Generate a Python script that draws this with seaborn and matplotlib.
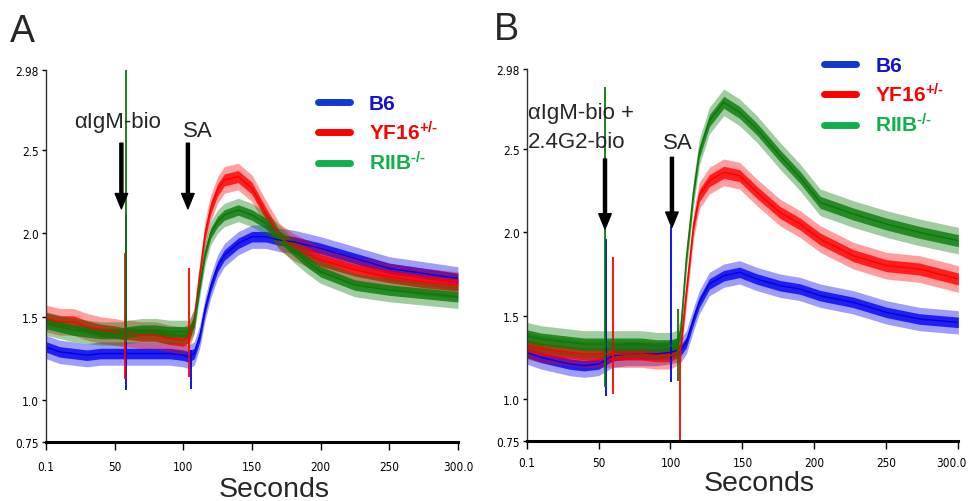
import numpy as np
import pandas as pd
import matplotlib
matplotlib.use('Agg')
import matplotlib.pyplot as plt
import seaborn as sns
from matplotlib.lines import Line2D
from matplotlib import font_manager
from matplotlib.transforms import ScaledTranslation

# ---- data (ratio vs seconds) ----
strains = ['B6', 'YF16', 'RIIB']

# panel A: aIgM-bio at ~55 s, SA at ~104 s
t_a = [0, 10, 20, 30, 40, 50, 56, 60, 70, 80, 90, 100, 104, 108, 112, 116, 120,
       125, 130, 140, 150, 160, 170, 180, 190, 200, 225, 250, 275, 300]
a_b6 = [1.32, 1.29, 1.28, 1.27, 1.28, 1.28, 1.28, 1.28, 1.28, 1.28, 1.28, 1.27, 1.26, 1.28, 1.38, 1.55,
        1.68, 1.80, 1.87, 1.94, 1.98, 1.98, 1.96, 1.95, 1.93, 1.91, 1.85, 1.79, 1.76, 1.73]
a_yf16 = [1.49, 1.47, 1.47, 1.44, 1.42, 1.41, 1.40, 1.40, 1.39, 1.39, 1.37, 1.36, 1.38, 1.48, 1.75, 2.00,
          2.15, 2.26, 2.32, 2.34, 2.27, 2.12, 1.98, 1.92, 1.88, 1.84, 1.78, 1.74, 1.71, 1.69]
a_riib = [1.46, 1.44, 1.42, 1.41, 1.40, 1.40, 1.40, 1.41, 1.42, 1.42, 1.41, 1.41, 1.41, 1.47, 1.68, 1.88,
          2.00, 2.07, 2.11, 2.14, 2.11, 2.06, 1.98, 1.90, 1.83, 1.77, 1.69, 1.66, 1.64, 1.62]
# single-point spikes: (time, low, high)
a_b6_spikes = [(58.3, 1.06, 2.11), (106.0, 1.07, 1.30)]
a_yf16_spikes = [(57.5, 1.13, 1.88), (104.4, 1.14, 1.79)]
a_riib_spikes = [(58.0, 1.35, 2.98)]
a_spread = [0.07, 0.08, 0.07]

# panel B: aIgM-bio + 2.4G2-bio at ~55 s, SA at ~101 s
t_b = [0, 10, 20, 30, 40, 50, 60, 70, 80, 90, 100, 104, 107, 111, 116, 120, 127,
       137, 148, 160, 176, 190, 204, 227, 250, 273, 300]
b_b6 = [1.28, 1.25, 1.23, 1.21, 1.20, 1.21, 1.26, 1.27, 1.27, 1.27, 1.28, 1.29, 1.29, 1.34, 1.48,
        1.58, 1.69, 1.74, 1.76, 1.72, 1.68, 1.66, 1.62, 1.58, 1.52, 1.48, 1.46]
b_yf16 = [1.32, 1.30, 1.29, 1.28, 1.27, 1.27, 1.27, 1.27, 1.27, 1.26, 1.26, 1.28, 1.30, 1.64, 2.04,
          2.22, 2.31, 2.36, 2.34, 2.24, 2.12, 2.05, 1.96, 1.86, 1.80, 1.78, 1.72]
b_riib = [1.38, 1.36, 1.35, 1.34, 1.33, 1.33, 1.33, 1.33, 1.33, 1.32, 1.32, 1.33, 1.40, 1.84, 2.24,
          2.48, 2.67, 2.78, 2.72, 2.62, 2.46, 2.33, 2.18, 2.11, 2.05, 2.00, 1.95]
b_b6_spikes = [(55.3, 1.02, 1.96), (100.5, 1.10, 2.04)]
b_yf16_spikes = [(59.8, 1.03, 1.85), (106.5, 0.75, 1.30)]
b_riib_spikes = [(54.4, 1.07, 2.87), (105.0, 1.11, 1.54)]
b_spread = [0.07, 0.08, 0.08]

x_ticks = [0.1, 50, 100, 150, 200, 250, 300]
x_ticklabels = ['0.1', '50', '100', '150', '200', '250', '300.0']
y_ticks = [0.75, 1.0, 1.5, 2.0, 2.5, 2.98]
y_ticklabels = ['0.75', '1.0', '1.5', '2.0', '2.5', '2.98']

trace_col = {'B6': '#0000ee', 'YF16': '#ff0000', 'RIIB': '#087a08'}
key_col = {'B6': '#1238d0', 'YF16': '#ff0000', 'RIIB': '#12b04c'}
text_col = {'B6': '#1414c8', 'YF16': '#ff0000', 'RIIB': '#12b04c'}
labels = {'B6': 'B6', 'YF16': r'YF16$^{+/\text{-}}$', 'RIIB': r'RIIB$^{\text{-}/\text{-}}$'}

sns.set_theme(style='white')
plt.rcParams['font.family'] = ['Liberation Sans', 'DejaVu Sans']
plt.rcParams['mathtext.fontset'] = 'custom'
plt.rcParams['mathtext.rm'] = 'Liberation Sans:bold'
plt.rcParams['mathtext.bf'] = 'Liberation Sans:bold'
plt.rcParams['mathtext.default'] = 'rm'

# narrow face for the tick numbers, if one is installed
tick_font = {'family': ['Liberation Sans', 'DejaVu Sans']}
for f in font_manager.fontManager.ttflist:
    if 'Narrow' in f.name or 'Condensed' in f.name:
        tick_font = {'family': [f.name, 'DejaVu Sans']}
        break
    if f.stretch in ('condensed', 'semi-condensed', 'extra-condensed'):
        tick_font = {'family': [f.name, 'DejaVu Sans'], 'stretch': f.stretch}
        break

fig = plt.figure(figsize=(9.7, 5.02), dpi=100)
ax_a = fig.add_axes([0.0474, 0.1175, 0.4247, 0.7416])
ax_b = fig.add_axes([0.5430, 0.1201, 0.4450, 0.7405])


def draw_panel(ax, t, curves, spikes, spread, xpad):
    for name, vals, spk, sp in zip(strains, curves, spikes, spread):
        c = trace_col[name]
        v = np.array(vals)
        ax.fill_between(t, v - sp, v + sp, color=c, alpha=0.38, lw=0)
        ax.fill_between(t, v - sp * 0.45, v + sp * 0.45, color=c, alpha=0.8, lw=0)
        df = pd.DataFrame({'t': t, 'v': vals})
        sns.lineplot(data=df, x='t', y='v', ax=ax, color=c, lw=1.0)
        for (ts, lo, hi) in spk:
            ax.vlines(ts, lo, hi, color=c, lw=1.3)

    ax.set_xlim(0.1, 300)
    ax.set_ylim(0.75, 2.98)
    ax.set_xticks(x_ticks)
    ax.set_xticklabels(x_ticklabels, fontsize=8.5, **tick_font)
    ax.set_yticks(y_ticks)
    ax.set_yticklabels(y_ticklabels, fontsize=8.5, **tick_font)
    ax.set_xlabel('')
    ax.set_ylabel('')
    ax.tick_params(axis='x', length=6, width=1, pad=xpad, direction='out', bottom=True, colors='black')
    ax.tick_params(axis='y', length=3, width=1, pad=2, direction='out', left=True, colors='black')
    for s in ['top', 'right']:
        ax.spines[s].set_visible(False)
    ax.spines['left'].set_color('#333333')
    ax.spines['left'].set_linewidth(1.0)
    ax.spines['bottom'].set_color('black')
    ax.spines['bottom'].set_linewidth(2.2)
    ax.grid(False)

    handles = [Line2D([], [], color=key_col[n], lw=5) for n in strains]
    return handles


h = draw_panel(ax_a, t_a, [a_b6, a_yf16, a_riib],
               [a_b6_spikes, a_yf16_spikes, a_riib_spikes], a_spread, 7)
draw_panel(ax_b, t_b, [b_b6, b_yf16, b_riib],
           [b_b6_spikes, b_yf16_spikes, b_riib_spikes], b_spread, 5)

# last tick label of panel B sits at the right edge: nudge it inside
last = ax_b.get_xticklabels()[-1]
last.set_transform(last.get_transform() + ScaledTranslation(-5 / 72, 0, fig.dpi_scale_trans))

for ax, anchor in [(ax_a, (0.66, 0.935)), (ax_b, (0.689, 1.035))]:
    leg = ax.legend(h, [labels[n] for n in strains], loc='upper left', bbox_to_anchor=anchor,
                    frameon=False, handlelength=1.55, handletextpad=0.9, labelspacing=0.35,
                    borderpad=0, borderaxespad=0,
                    prop={'weight': 'bold', 'size': 15})
    for txt, n in zip(leg.get_texts(), strains):
        txt.set_color(text_col[n])

arrow = dict(facecolor='black', edgecolor='black', width=2.2, headwidth=9, headlength=11, shrink=0)

# panel A annotations
ax_a.text(20.4, 2.668, 'αIgM-bio', fontsize=16, va='center', ha='left')
ax_a.annotate('', xy=(55, 2.147), xytext=(55, 2.54), arrowprops=arrow)
ax_a.text(99.8, 2.614, 'SA', fontsize=16, va='center', ha='left')
ax_a.annotate('', xy=(103.4, 2.147), xytext=(103.4, 2.54), arrowprops=arrow)

# panel B annotations
ax_b.text(0.9, 2.72, 'αIgM-bio +', fontsize=16, va='center', ha='left')
ax_b.text(0.9, 2.542, '2.4G2-bio', fontsize=16, va='center', ha='left')
ax_b.annotate('', xy=(54.5, 2.02), xytext=(54.5, 2.44), arrowprops=arrow)
ax_b.text(94.7, 2.54, 'SA', fontsize=16, va='center', ha='left')
ax_b.annotate('', xy=(101, 2.03), xytext=(101, 2.45), arrowprops=arrow)

for ax, xc, yb in [(ax_a, 0.553, -0.145), (ax_b, 0.538, -0.133)]:
    ax.set_xlabel('Seconds', fontsize=20.5)
    ax.xaxis.set_label_coords(xc, yb)
    ax.xaxis.label.set_va('baseline')

fig.text(10 / 970, 1 - 42 / 502, 'A', fontsize=27, ha='left', va='baseline')
fig.text(494 / 970, 1 - 40 / 502, 'B', fontsize=27, ha='left', va='baseline')

fig.savefig('out.png', dpi=100)
